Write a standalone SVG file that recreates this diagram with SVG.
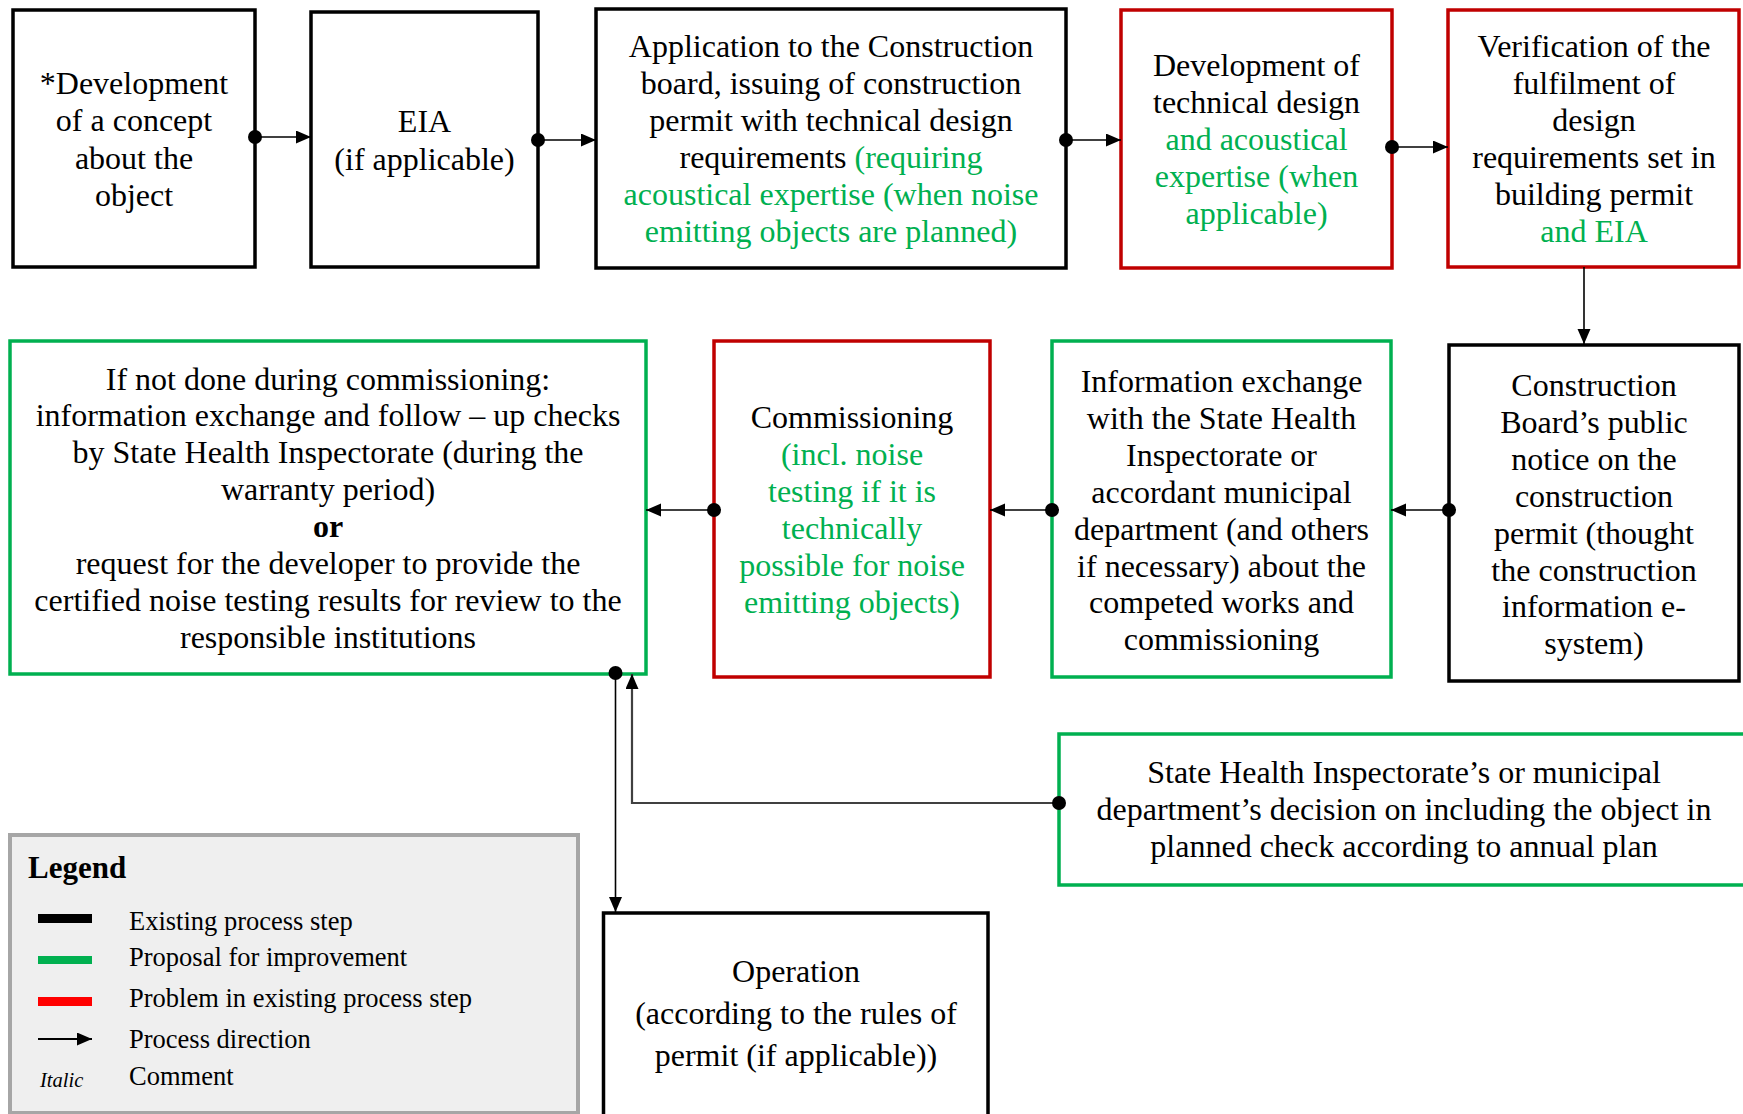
<svg xmlns="http://www.w3.org/2000/svg" width="1743" height="1114" viewBox="0 0 1743 1114">
  <style>
    .box { fill: #ffffff; stroke-width: 3.5; }
    .k { stroke: #000000; }
    .g { stroke: #00b050; }
    .r { stroke: #c00000; }
    .t { font-family: "Liberation Serif", "Times New Roman", serif; font-size: 32px; text-anchor: middle; fill: #000000; }
    .gt { fill: #00b050; }
    .lg { font-family: "Liberation Serif", "Times New Roman", serif; font-size: 26.5px; fill: #000000; }
    .wire { fill: none; stroke: #000000; stroke-width: 1.6; }
    .wire2 { fill: none; stroke: #404040; stroke-width: 2.2; }
    .dot { fill: #000000; }
  </style>
  <defs>
    <marker id="arrow" markerUnits="userSpaceOnUse" markerWidth="16" markerHeight="14" refX="15" refY="6.5" orient="auto">
      <path d="M0,0 L15,6.5 L0,13 z" fill="#000000"/>
    </marker>
  </defs>
  <rect width="1743" height="1114" fill="#ffffff"/>

  <!-- top row -->
  <g id="concept">
    <rect class="box k" x="13" y="10" width="242" height="257"/>
    <text class="t"><tspan x="134" y="93.5">*Development</tspan><tspan x="134" y="131">of a concept</tspan><tspan x="134" y="168.5">about the</tspan><tspan x="134" y="206">object</tspan></text>
  </g>
  <g id="eia">
    <rect class="box k" x="311" y="12" width="227" height="255"/>
    <text class="t"><tspan x="424.5" y="132">EIA</tspan><tspan x="424.5" y="170">(if applicable)</tspan></text>
  </g>
  <g id="application">
    <rect class="box k" x="596" y="9" width="470" height="259"/>
    <text class="t"><tspan x="831" y="57">Application to the Construction</tspan><tspan x="831" y="94">board, issuing of construction</tspan><tspan x="831" y="131">permit with technical design</tspan><tspan x="831" y="168">requirements <tspan class="gt">(requiring</tspan></tspan><tspan x="831" y="205" class="gt">acoustical expertise (when noise</tspan><tspan x="831" y="242" class="gt">emitting objects are planned)</tspan></text>
  </g>
  <g id="technical-design">
    <rect class="box r" x="1121" y="10" width="271" height="258"/>
    <text class="t"><tspan x="1256.5" y="76">Development of</tspan><tspan x="1256.5" y="113">technical design</tspan><tspan x="1256.5" y="150" class="gt">and acoustical</tspan><tspan x="1256.5" y="187" class="gt">expertise (when</tspan><tspan x="1256.5" y="224" class="gt">applicable)</tspan></text>
  </g>
  <g id="verification">
    <rect class="box r" x="1448" y="10" width="291" height="257"/>
    <text class="t"><tspan x="1594" y="57">Verification of the</tspan><tspan x="1594" y="94">fulfilment of</tspan><tspan x="1594" y="131">design</tspan><tspan x="1594" y="168">requirements set in</tspan><tspan x="1594" y="205">building permit</tspan><tspan x="1594" y="242" class="gt">and EIA</tspan></text>
  </g>

  <!-- second row -->
  <g id="follow-up">
    <rect class="box g" x="10" y="341" width="636" height="333"/>
    <text class="t"><tspan x="328" y="389.5">If not done during commissioning:</tspan><tspan x="328" y="426.4">information exchange and follow – up checks</tspan><tspan x="328" y="463.3">by State Health Inspectorate (during the</tspan><tspan x="328" y="500.2">warranty period)</tspan><tspan x="328" y="537.1" font-weight="bold">or</tspan><tspan x="328" y="574">request for the developer to provide the</tspan><tspan x="328" y="610.9">certified noise testing results for review to the</tspan><tspan x="328" y="647.8">responsible institutions</tspan></text>
  </g>
  <g id="commissioning">
    <rect class="box r" x="714" y="341" width="276" height="336"/>
    <text class="t"><tspan x="852" y="428">Commissioning</tspan><tspan x="852" y="465" class="gt">(incl. noise</tspan><tspan x="852" y="502" class="gt">testing if it is</tspan><tspan x="852" y="539" class="gt">technically</tspan><tspan x="852" y="576" class="gt">possible for noise</tspan><tspan x="852" y="613" class="gt">emitting objects)</tspan></text>
  </g>
  <g id="information-exchange">
    <rect class="box g" x="1052" y="341" width="339" height="336"/>
    <text class="t"><tspan x="1221.5" y="392">Information exchange</tspan><tspan x="1221.5" y="428.9">with the State Health</tspan><tspan x="1221.5" y="465.8">Inspectorate or</tspan><tspan x="1221.5" y="502.7">accordant municipal</tspan><tspan x="1221.5" y="539.6">department (and others</tspan><tspan x="1221.5" y="576.5">if necessary) about the</tspan><tspan x="1221.5" y="613.4">competed works and</tspan><tspan x="1221.5" y="650.3">commissioning</tspan></text>
  </g>
  <g id="public-notice">
    <rect class="box k" x="1449" y="345" width="290" height="336"/>
    <text class="t"><tspan x="1594" y="396">Construction</tspan><tspan x="1594" y="432.9">Board’s public</tspan><tspan x="1594" y="469.8">notice on the</tspan><tspan x="1594" y="506.7">construction</tspan><tspan x="1594" y="543.6">permit (thought</tspan><tspan x="1594" y="580.5">the construction</tspan><tspan x="1594" y="617.4">information e-</tspan><tspan x="1594" y="654.3">system)</tspan></text>
  </g>

  <!-- lower part -->
  <g id="planned-check">
    <rect class="box g" x="1059" y="734" width="690" height="151"/>
    <text class="t"><tspan x="1404" y="783">State Health Inspectorate’s or municipal</tspan><tspan x="1404" y="820">department’s decision on including the object in</tspan><tspan x="1404" y="857">planned check according to annual plan</tspan></text>
  </g>
  <g id="operation">
    <rect class="box k" x="603.5" y="913" width="384.5" height="210"/>
    <text class="t"><tspan x="796" y="982">Operation</tspan><tspan x="796" y="1024">(according to the rules of</tspan><tspan x="796" y="1066">permit (if applicable))</tspan></text>
  </g>

  <!-- connectors -->
  <g id="connectors">
    <line class="wire" x1="255" y1="137" x2="311" y2="137" marker-end="url(#arrow)"/>
    <circle class="dot" cx="255" cy="137" r="7"/>
    <line class="wire" x1="538" y1="140" x2="596" y2="140" marker-end="url(#arrow)"/>
    <circle class="dot" cx="538" cy="140" r="7"/>
    <line class="wire" x1="1066" y1="140" x2="1121" y2="140" marker-end="url(#arrow)"/>
    <circle class="dot" cx="1066" cy="140" r="7"/>
    <line class="wire" x1="1392" y1="147" x2="1448" y2="147" marker-end="url(#arrow)"/>
    <circle class="dot" cx="1392" cy="147" r="7"/>
    <line class="wire" x1="1584" y1="267" x2="1584" y2="344" marker-end="url(#arrow)"/>
    <line class="wire" x1="1449" y1="510" x2="1391" y2="510" marker-end="url(#arrow)"/>
    <circle class="dot" cx="1449" cy="510" r="7"/>
    <line class="wire" x1="1052" y1="510" x2="990" y2="510" marker-end="url(#arrow)"/>
    <circle class="dot" cx="1052" cy="510" r="7"/>
    <line class="wire" x1="714" y1="510" x2="646" y2="510" marker-end="url(#arrow)"/>
    <circle class="dot" cx="714" cy="510" r="7"/>
    <line class="wire" x1="615.5" y1="673" x2="615.5" y2="912" marker-end="url(#arrow)"/>
    <circle class="dot" cx="615.5" cy="673" r="7"/>
    <polyline class="wire2" points="1059,803 632,803 632,674" marker-end="url(#arrow)"/>
    <circle class="dot" cx="1059" cy="803" r="7"/>
  </g>

  <!-- legend -->
  <g id="legend">
    <rect x="10" y="835" width="568" height="278" fill="#efefef" stroke="#a6a6a6" stroke-width="4"/>
    <text x="28" y="878" font-family="Liberation Serif, Times New Roman, serif" font-size="31" font-weight="bold" fill="#000000">Legend</text>
    <rect x="38" y="914" width="54" height="9" fill="#000000"/>
    <rect x="38" y="956" width="54" height="8" fill="#00b050"/>
    <rect x="38" y="997" width="54" height="9" fill="#ff0000"/>
    <line x1="38" y1="1039" x2="92" y2="1039" stroke="#000000" stroke-width="2" marker-end="url(#arrow)"/>
    <text x="40" y="1087" font-family="Liberation Serif, Times New Roman, serif" font-size="20.5" font-style="italic" fill="#000000">Italic</text>
    <text class="lg" x="129" y="930">Existing process step</text>
    <text class="lg" x="129" y="966">Proposal for improvement</text>
    <text class="lg" x="129" y="1007">Problem in existing process step</text>
    <text class="lg" x="129" y="1048">Process direction</text>
    <text class="lg" x="129" y="1085">Comment</text>
  </g>
</svg>
